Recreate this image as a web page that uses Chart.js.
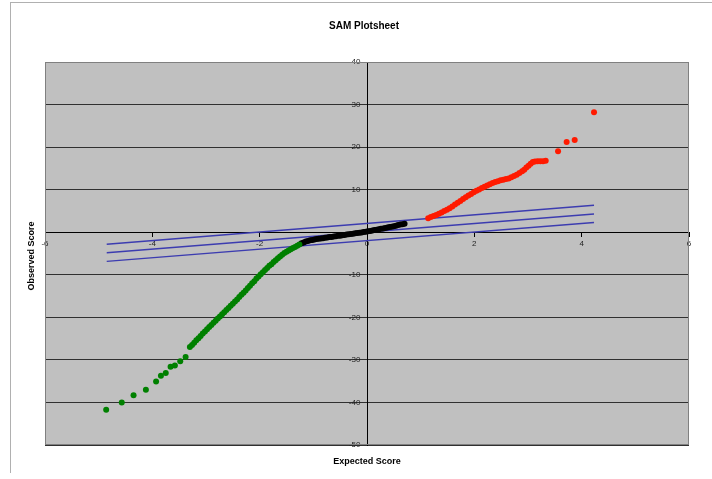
<!DOCTYPE html>
<html>
<head>
<meta charset="utf-8">
<script src="https://cdn.jsdelivr.net/npm/chart.js@4"></script>
<style>
  body { margin: 0; background: #fff; }
  #wrap { position: relative; width: 712px; height: 479px; }
  #frame { position: absolute; left: 10px; top: 2px; width: 702px; height: 470px;
           border-top: 1px solid #b0b0b0; border-left: 1px solid #b0b0b0; }
  canvas { position: absolute; left: 0; top: 0; }
</style>
</head>
<body>
<div id="wrap">
  <div id="frame"></div>
  <canvas id="chart" width="712" height="479"></canvas>
</div>
<script>
// ---------------------------------------
// Data.
let chartTitle = "SAM Plotsheet";
let xTitle = "Expected Score";
let yTitle = "Observed Score";

// Lower tail (green).
let greenX = [-4.86, -4.57, -4.35, -4.12, -3.93, -3.84, -3.75, -3.66, -3.58, -3.48, -3.38,
  -3.30, -3.26, -3.22, -3.18, -3.14, -3.10, -3.06, -3.02, -2.98, -2.94, -2.90, -2.86,
  -2.82, -2.78, -2.74, -2.70, -2.66, -2.62, -2.58, -2.54, -2.50, -2.46, -2.42, -2.38,
  -2.34, -2.30, -2.26, -2.22, -2.18, -2.14, -2.10, -2.06, -2.02, -1.98, -1.94, -1.90,
  -1.86, -1.82, -1.78, -1.74, -1.70, -1.66, -1.62, -1.58, -1.54, -1.50, -1.46, -1.42,
  -1.38, -1.34, -1.30, -1.26];
let greenY = [-41.7, -40.0, -38.3, -37.0, -35.1, -33.7, -33.1, -31.6, -31.3, -30.3, -29.3,
  -27.0, -26.5, -26.0, -25.4, -24.9, -24.4, -23.8, -23.3, -22.8, -22.3, -21.8, -21.3,
  -20.8, -20.3, -19.8, -19.3, -18.8, -18.3, -17.8, -17.3, -16.8, -16.3, -15.8, -15.2,
  -14.7, -14.2, -13.7, -13.1, -12.6, -12.0, -11.5, -10.9, -10.4, -9.9, -9.4, -8.9,
  -8.4, -7.9, -7.5, -7.0, -6.6, -6.1, -5.7, -5.3, -4.9, -4.6, -4.3, -4.0,
  -3.7, -3.5, -3.2, -2.9];

// Middle part (black).
let blackX = [-1.22, -1.18, -1.14, -1.10, -1.06, -1.02, -0.98, -0.94, -0.90, -0.86, -0.82,
  -0.78, -0.74, -0.70, -0.66, -0.62, -0.58, -0.54, -0.50, -0.46, -0.42, -0.38, -0.34,
  -0.30, -0.26, -0.22, -0.18, -0.14, -0.10, -0.06, -0.02, 0.02, 0.06, 0.10, 0.14,
  0.18, 0.22, 0.26, 0.30, 0.34, 0.38, 0.42, 0.46, 0.50, 0.54, 0.58, 0.62, 0.66, 0.70];
let blackY = [-2.6, -2.4, -2.2, -2.05, -1.9, -1.8, -1.7, -1.6, -1.55, -1.45, -1.4,
  -1.3, -1.25, -1.15, -1.1, -1.0, -0.95, -0.85, -0.8, -0.7, -0.65, -0.55, -0.5,
  -0.4, -0.35, -0.25, -0.2, -0.1, -0.05, 0.05, 0.1, 0.2, 0.3, 0.4, 0.5,
  0.6, 0.7, 0.8, 0.9, 1.0, 1.1, 1.2, 1.3, 1.4, 1.55, 1.7, 1.8, 1.9, 2.0];

// Upper tail (red).
let redX = [1.14, 1.19, 1.24, 1.29, 1.34, 1.39, 1.44, 1.49, 1.54, 1.59, 1.64, 1.69, 1.74,
  1.79, 1.84, 1.89, 1.94, 1.99, 2.04, 2.09, 2.14, 2.19, 2.24, 2.29, 2.34, 2.39, 2.44,
  2.49, 2.54, 2.59, 2.64, 2.69, 2.74, 2.79, 2.84, 2.89, 2.93, 2.97, 3.01, 3.05, 3.09,
  3.13, 3.18, 3.23, 3.28, 3.33, 3.56, 3.72, 3.87, 4.23];
let redY = [3.3, 3.55, 3.8, 4.05, 4.35, 4.65, 5.0, 5.3, 5.65, 6.05, 6.5, 6.9, 7.35,
  7.8, 8.2, 8.6, 9.0, 9.4, 9.75, 10.05, 10.4, 10.7, 10.95, 11.25, 11.55, 11.8, 12.0,
  12.2, 12.35, 12.5, 12.65, 12.9, 13.2, 13.5, 13.9, 14.3, 14.7, 15.2, 15.6, 16.1, 16.5,
  16.6, 16.7, 16.7, 16.7, 16.8, 19.0, 21.2, 21.7, 28.2];

// Delta lines (upper, middle, lower).
let lineX = [-4.85, 4.23];
let upperY = [-2.8, 6.35];
let middleY = [-4.8, 4.3];
let lowerY = [-6.85, 2.3];

let xTicks = [-6, -4, -2, 0, 2, 4, 6];
let yTicks = [40, 30, 20, 10, 0, -10, -20, -30, -40, -50];

// ---------------------------------------
// Turn the lists into point lists for the chart.
function toPoints(xs, ys) {
  let pts = [];
  for (let i = 0; i < xs.length; i++) {
    pts.push({ x: xs[i], y: ys[i] });
  }
  return pts;
}

function lineSet(ys) {
  return {
    data: toPoints(lineX, ys),
    showLine: true,
    borderColor: "#3c3cb0",
    borderWidth: 1.5,
    pointRadius: 0,
    order: 2,
  };
}

function dotSet(xs, ys, color) {
  return {
    data: toPoints(xs, ys),
    backgroundColor: color,
    borderColor: color,
    pointRadius: 3,
    borderWidth: 0,
    order: 1,
  };
}

// Grey plot area, its border and the text around it.
let sheetPlugin = {
  id: "sheet",
  beforeDraw(chart) {
    let ctx = chart.ctx;
    let a = chart.chartArea;
    ctx.save();
    ctx.fillStyle = "#c0c0c0";
    ctx.fillRect(a.left, a.top, a.right - a.left, a.bottom - a.top);
    ctx.restore();
  },
  afterDraw(chart) {
    let ctx = chart.ctx;
    let a = chart.chartArea;
    ctx.save();
    ctx.strokeStyle = "#808080";
    ctx.lineWidth = 1;
    ctx.strokeRect(a.left + 0.5, a.top + 0.5, a.right - a.left - 1, a.bottom - a.top - 1);
    ctx.fillStyle = "#000";
    ctx.textAlign = "center";
    ctx.textBaseline = "middle";
    ctx.font = "bold 10px 'Liberation Sans', Arial, sans-serif";
    ctx.fillText(chartTitle, 364, 26);
    ctx.font = "bold 9px 'Liberation Sans', Arial, sans-serif";
    ctx.fillText(xTitle, 367, 462);
    ctx.translate(32, 256);
    ctx.rotate(-Math.PI / 2);
    ctx.fillText(yTitle, 0, 0);
    ctx.restore();
  },
};

let tickFont = { family: "'Liberation Sans', Arial, sans-serif", size: 8 };

let chart = new Chart(document.getElementById("chart"), {
  type: "scatter",
  data: {
    datasets: [
      dotSet(greenX, greenY, "#008000"),
      dotSet(blackX, blackY, "#000000"),
      dotSet(redX, redY, "#ff1a00"),
      lineSet(upperY),
      lineSet(middleY),
      lineSet(lowerY),
    ],
  },
  options: {
    responsive: false,
    animation: false,
    devicePixelRatio: 1,
    layout: { padding: { left: 45, right: 23, top: 62, bottom: 34 } },
    plugins: { legend: { display: false }, tooltip: { enabled: false } },
    scales: {
      x: {
        type: "linear",
        position: { y: 0 },
        min: xTicks[0],
        max: xTicks[xTicks.length - 1],
        afterBuildTicks: (scale) => {
          scale.ticks = xTicks.map((v) => ({ value: v }));
        },
        grid: { display: true, drawOnChartArea: false, drawTicks: true, tickLength: 4, color: "#000" },
        border: { display: true, color: "#000", width: 1 },
        ticks: { font: tickFont, color: "#222", padding: 3, maxRotation: 0, autoSkip: false },
      },
      y: {
        type: "linear",
        position: { x: 0 },
        min: yTicks[yTicks.length - 1],
        max: yTicks[0],
        afterBuildTicks: (scale) => {
          scale.ticks = yTicks.map((v) => ({ value: v }));
        },
        grid: { color: "#303030", lineWidth: 1, drawTicks: true, tickLength: 4 },
        border: { display: true, color: "#000", width: 1 },
        ticks: {
          font: tickFont,
          color: "#222",
          autoSkip: false,
          // labels sit left of the axis line, so pad them with spaces
          callback: (v) => (v === 0 ? "" : v + "   "),
        },
      },
    },
  },
  plugins: [sheetPlugin],
});
</script>
</body>
</html>
